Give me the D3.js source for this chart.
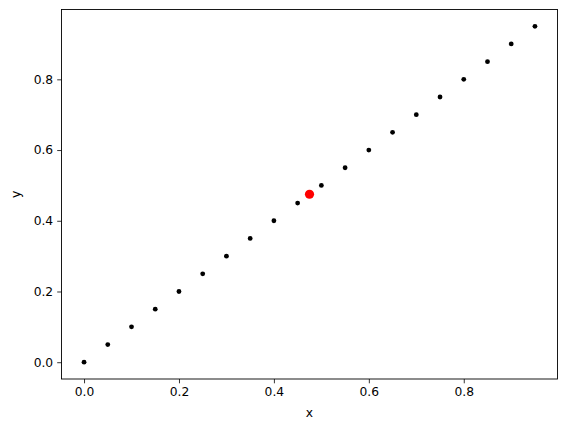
<!DOCTYPE html>
<html>
<head>
<meta charset="utf-8">
<script src="https://cdn.jsdelivr.net/npm/d3@7"></script>
<style>
  body { margin: 0; background: #fff; }
  text { font-family: "DejaVu Sans", sans-serif; }
</style>
</head>
<body>
<svg width="567" height="432"></svg>
<script>
(()=>{

//data
let xs = [0, 0.05, 0.1, 0.15, 0.2, 0.25, 0.3, 0.35, 0.4, 0.45, 0.5, 0.55, 0.6, 0.65, 0.7, 0.75, 0.8, 0.85, 0.9, 0.95];
let ys = [0, 0.05, 0.1, 0.15, 0.2, 0.25, 0.3, 0.35, 0.4, 0.45, 0.5, 0.55, 0.6, 0.65, 0.7, 0.75, 0.8, 0.85, 0.9, 0.95];
let highlight = [{x: 0.475, y: 0.475}];
let xticks = [0, 0.2, 0.4, 0.6, 0.8];
let yticks = [0, 0.2, 0.4, 0.6, 0.8];

let svg = d3.select("svg");
let left = 61.5, right = 557.5, top = 9.5, bottom = 379;

let x = d3.scaleLinear().domain([-0.0475, 0.9975]).range([left, right]);
let y = d3.scaleLinear().domain([-0.0475, 0.9975]).range([bottom, top]);

//axes
let xaxis = svg.append("g")
	.attr("transform", `translate(0,${bottom})`)
	.call(d3.axisBottom(x).tickValues(xticks).tickFormat(d3.format(".1f")).tickSize(4.3).tickPadding(4));
let yaxis = svg.append("g")
	.attr("transform", `translate(${left},0)`)
	.call(d3.axisLeft(y).tickValues(yticks).tickFormat(d3.format(".1f")).tickSize(4.3).tickPadding(4));
[xaxis, yaxis].forEach(a => {
	a.select(".domain").remove();
	a.selectAll("line").attr("stroke", "#000").attr("stroke-width", 0.8);
	a.selectAll("text").attr("font-size", 12.3).attr("fill", "#000")
		.style("font-family", "DejaVu Sans, sans-serif");
});

//frame
svg.append("rect")
	.attr("x", left).attr("y", top)
	.attr("width", right - left).attr("height", bottom - top)
	.attr("fill", "none").attr("stroke", "#000").attr("stroke-width", 0.9);

//points
let pts = xs.map((v, i) => ({x: v, y: ys[i]}));
svg.selectAll(".pt")
	.data(pts)
	.enter().append("circle")
	.attr("class", "pt")
	.attr("cx", d => x(d.x))
	.attr("cy", d => y(d.y))
	.attr("r", 2.4)
	.attr("fill", "#000");

svg.selectAll(".hl")
	.data(highlight)
	.enter().append("circle")
	.attr("class", "hl")
	.attr("cx", d => x(d.x))
	.attr("cy", d => y(d.y))
	.attr("r", 4.6)
	.attr("fill", "#ff0000");

//labels
svg.append("text")
	.attr("x", (left + right) / 2).attr("y", 417)
	.attr("text-anchor", "middle").attr("font-size", 12.3)
	.text("x");
svg.append("text")
	.attr("transform", `translate(20,${(top + bottom) / 2}) rotate(-90)`)
	.attr("text-anchor", "middle").attr("font-size", 12.3)
	.text("y");
})();
</script>
</body>
</html>
